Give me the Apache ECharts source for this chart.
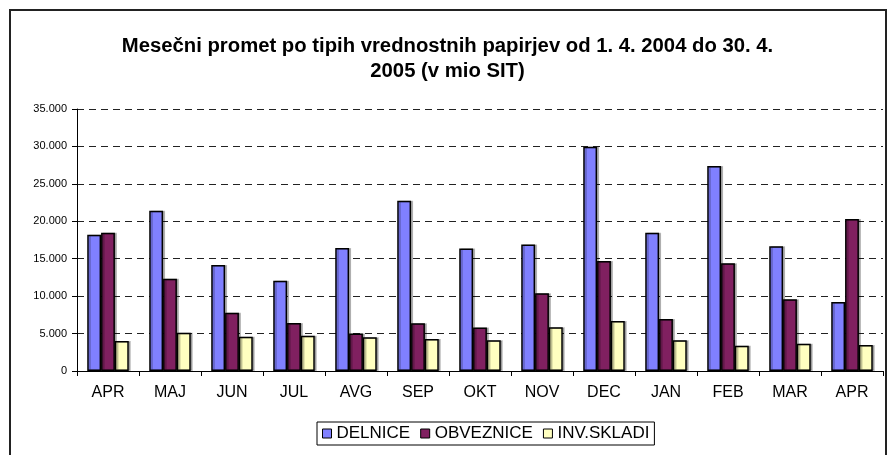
<!DOCTYPE html>
<html>
<head>
<meta charset="utf-8">
<script src="https://cdn.jsdelivr.net/npm/echarts@6/dist/echarts.min.js"></script>
<style>
html,body{margin:0;padding:0;background:#fff;}
#chart{width:895px;height:455px;}
</style>
</head>
<body>
<div id="chart"></div>
<script>
const categories = ['APR','MAJ','JUN','JUL','AVG','SEP','OKT','NOV','DEC','JAN','FEB','MAR','APR'];
const seriesNames = ['DELNICE','OBVEZNICE','INV.SKLADI'];
const delnice    = [18200, 21400, 14150, 12050, 16430, 22750, 16350, 16900, 29950, 18480, 27400, 16650, 9220];
const obveznice  = [18480, 12330, 7790, 6400, 5000, 6370, 5800, 10380, 14700, 6950, 14400, 9580, 20300];
const invSkladi  = [4000, 5100, 4580, 4720, 4500, 4280, 4100, 5830, 6680, 4100, 3380, 3650, 3470];
const yTicks = {min: 0, max: 35000, interval: 5000};
const titleText = 'Mesečni promet po tipih vrednostnih papirjev od 1. 4. 2004 do 30. 4.\n2005 (v mio SIT)';

const colors = ['#8080FF', '#802060', '#FFFFC0'];
const font = 'Liberation Sans, Arial, sans-serif';

function fmt(v) {
  return String(v).replace(/\B(?=(\d{3})+(?!\d))/g, '.');
}

const chart = echarts.init(document.getElementById('chart'), null, {renderer: 'canvas'});
const data = [delnice, obveznice, invSkladi];
chart.setOption({
  animation: false,
  backgroundColor: '#fff',
  graphic: [{
    type: 'rect',
    shape: {x: 10, y: 10, width: 876, height: 460},
    style: {fill: 'none', stroke: '#222', lineWidth: 2},
    silent: true
  }],
  title: {
    text: titleText,
    left: 'center',
    top: 29,
    textStyle: {fontFamily: font, fontSize: 20.3, fontWeight: 'bold', color: '#000', lineHeight: 25}
  },
  legend: {
    data: seriesNames,
    left: 317,
    top: 422,
    padding: [3, 5, 3, 5],
    itemWidth: 9,
    itemHeight: 9,
    itemGap: 10,
    borderColor: '#000',
    borderWidth: 1,
    icon: 'rect',
    itemStyle: {borderColor: '#000', borderWidth: 1},
    textStyle: {fontFamily: font, fontSize: 17, color: '#000'}
  },
  grid: {left: 77, right: 12, top: 109, bottom: 84, containLabel: false},
  xAxis: {
    type: 'category',
    data: categories,
    axisLine: {lineStyle: {color: '#000', width: 1}},
    axisTick: {show: true, length: 5, lineStyle: {color: '#000'}},
    axisLabel: {fontFamily: font, fontSize: 16, color: '#000', margin: 14, interval: 0},
    splitLine: {show: false}
  },
  yAxis: {
    type: 'value',
    min: yTicks.min,
    max: yTicks.max,
    interval: yTicks.interval,
    axisLine: {show: true, lineStyle: {color: '#000', width: 1}},
    axisTick: {show: true, length: 5, lineStyle: {color: '#000'}},
    axisLabel: {fontFamily: font, fontSize: 11, color: '#000', margin: 10, formatter: fmt},
    splitLine: {show: true, lineStyle: {color: '#222', type: [7, 5], width: 1}}
  },
  series: seriesNames.map((name, i) => ({
    name: name,
    type: 'bar',
    data: data[i],
    barGap: '0%',
    barCategoryGap: '33%',
    itemStyle: {
      color: colors[i],
      borderColor: '#000',
      borderWidth: 1.5,
      shadowColor: 'rgba(0,0,0,0.25)',
      shadowOffsetX: 2,
      shadowOffsetY: 0,
      shadowBlur: 0
    }
  }))
});
</script>
</body>
</html>
